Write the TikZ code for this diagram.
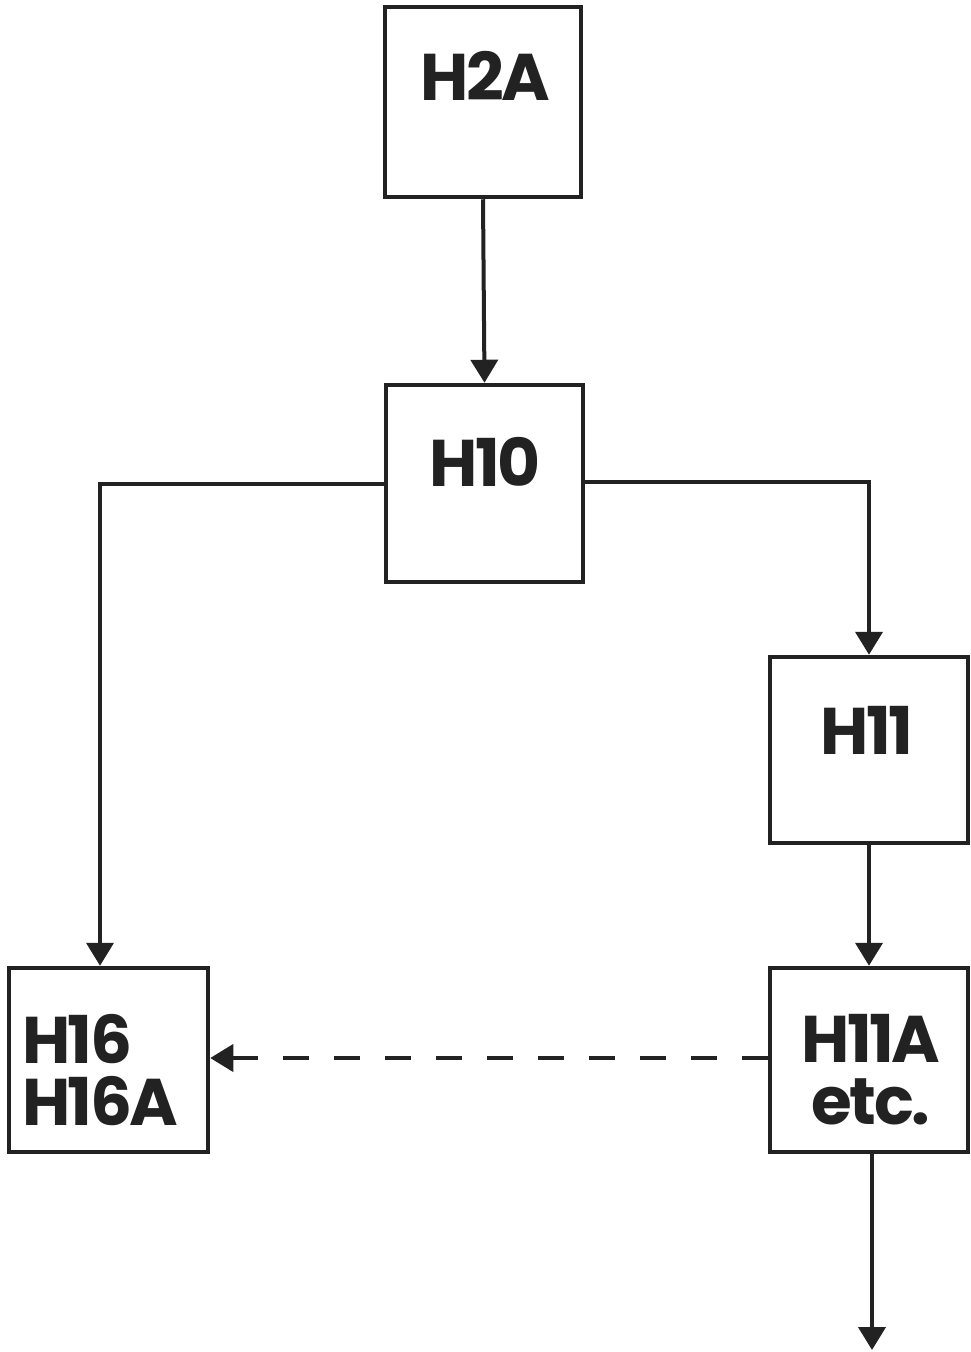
\documentclass[tikz,border=0pt]{standalone}
\usepackage{fontspec}
\setmainfont{Poppins}[UprightFont=* Bold, LetterSpace=-4]
\usetikzlibrary{arrows.meta}
\definecolor{ink}{HTML}{222222}
\begin{document}
\begin{tikzpicture}[x=1pt,y=-1pt,
  box/.style={draw=ink,line width=4.5pt,inner sep=0pt},
  lbl/.style={text=ink,font=\fontsize{66}{62}\selectfont,align=center,inner sep=0pt},
  conn/.style={draw=ink,line width=4pt,-{Triangle[length=23pt,width=27pt]}},
  dconn/.style={conn,dash pattern=on 26pt off 25pt}]
\useasboundingbox (0,0) rectangle (971,1352);
\node[box,minimum width=196pt,minimum height=190pt] (h2a) at (483,102) {};
\node[box,minimum width=197pt,minimum height=197pt] (h10) at (484.5,483.5) {};
\node[box,minimum width=198pt,minimum height=186pt] (h11) at (869,750) {};
\node[box,minimum width=199pt,minimum height=184pt] (h16) at (108.5,1060) {};
\node[box,minimum width=198pt,minimum height=184pt] (h11a) at (869,1060) {};
\node[lbl] (t2a) at (485,76) {H2A};
\node[lbl] (t10) at (485,462) {H10};
\node[lbl] (t11) at (867,730) {H11};
\node[lbl,anchor=west,align=left] (t16) at (22,1070) {H16\\H16A};
\node[lbl] (t11a) at (871,1070) {H11A\\etc.};
\coordinate (bottom) at (872,1350);
\draw[conn] (h2a.south) -- (h10.north);
\draw[conn] (h10.west |- 0,484) -| (h16.north -| 100,0);
\draw[conn] (h10.east |- 0,482) -| (h11.north);
\draw[conn] (h11.south) -- (h11a.north);
\draw[dconn] (h11a.west |- 0,1058) -- (h16.east |- 0,1058);
\draw[conn] (h11a.south -| bottom) -- (bottom);
\end{tikzpicture}
\end{document}
